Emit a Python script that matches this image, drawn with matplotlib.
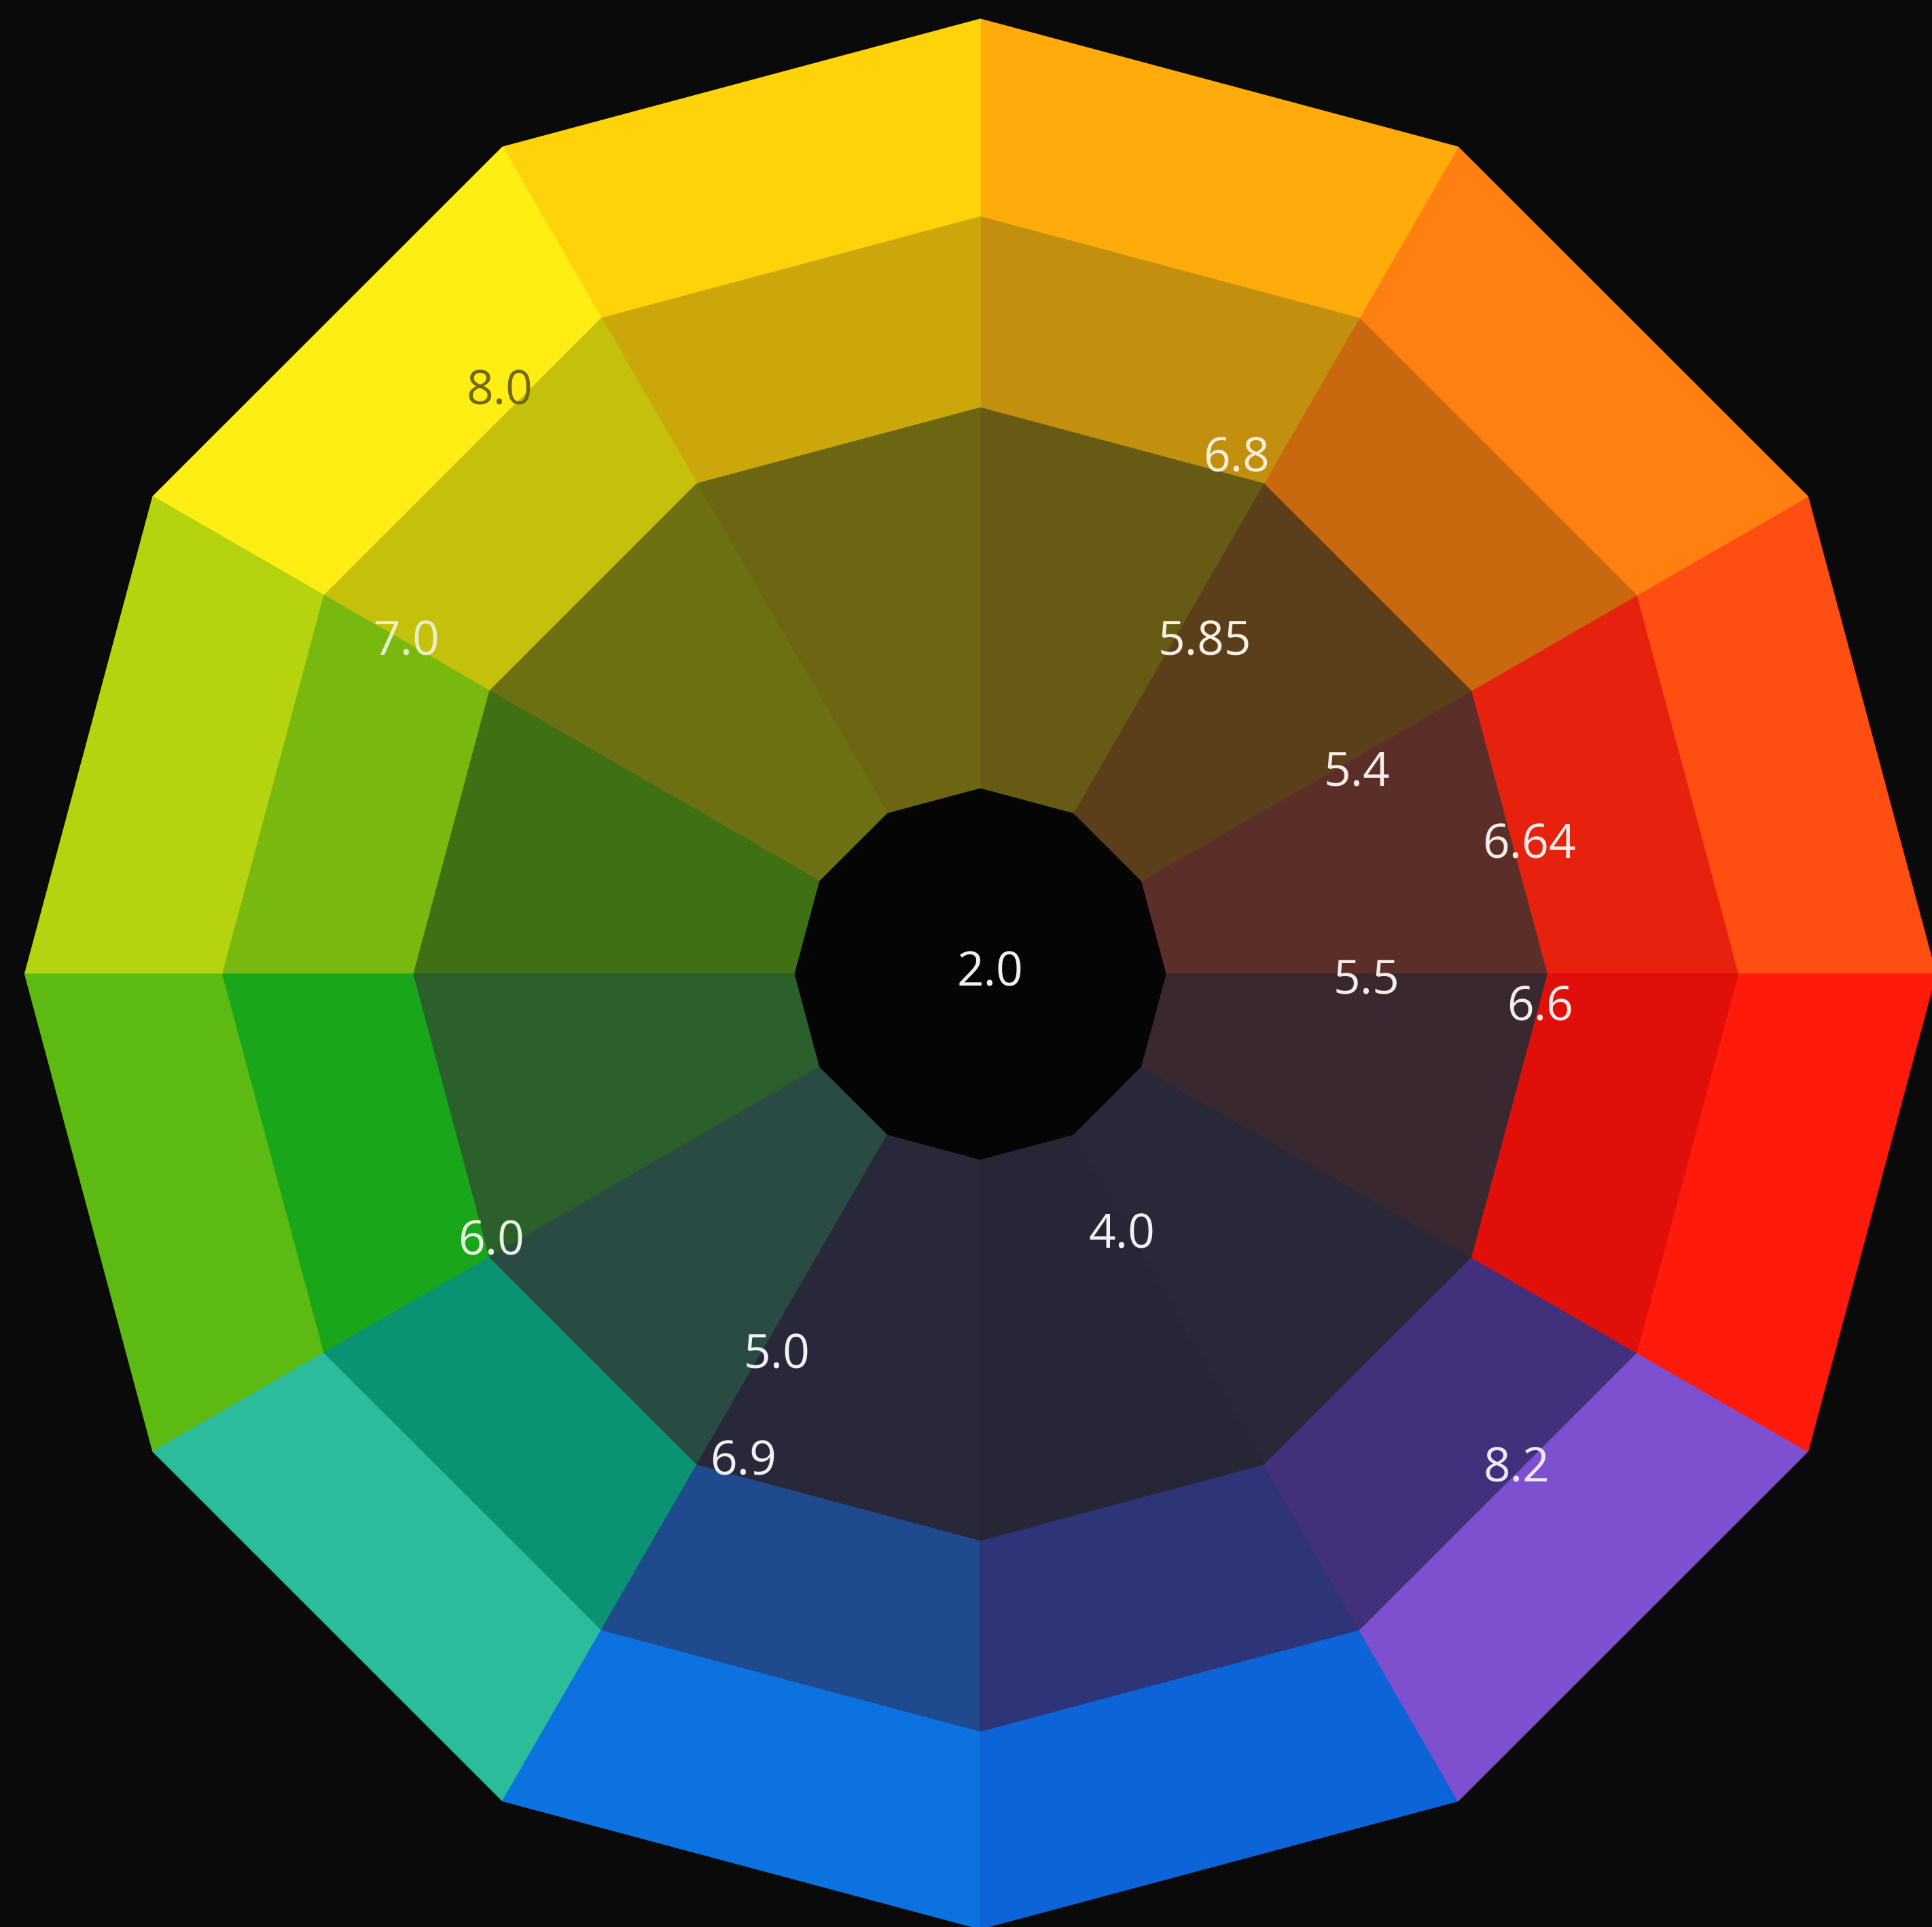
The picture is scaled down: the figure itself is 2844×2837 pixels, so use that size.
import numpy as np
import matplotlib.pyplot as plt
from matplotlib.patches import Polygon

# ring boundaries (fraction of outer radius): centre hole, dark, mid, bright
ring_radii = [0.194, 0.594, 0.794, 1.0]

# twelve 30-degree sectors, counter-clockwise from 3 o'clock
sector_deg = list(range(0, 360, 30))

inner_colors = ['#5c2e2a', '#5a3f1a', '#675a14', '#6c6612', '#6c7012', '#3f7014',
                '#2b5f2c', '#2a4a44', '#28283a', '#262636', '#282838', '#3a2830']
middle_colors = ['#e6220e', '#c9680f', '#c38f0e', '#cca70c', '#c5c00b', '#78b80f',
                 '#1aa61a', '#0b9272', '#1f4a8e', '#2e3478', '#43307c', '#e00f0a']
outer_colors = ['#ff4e12', '#ff7f10', '#ffab0c', '#ffd30a', '#ffee14', '#b5d40f',
                '#5cba12', '#2bbc9c', '#0b72e0', '#0c64d8', '#7e50d0', '#ff1a0c']
center_color = '#050505'

labels = ['2.0', '8.0', '7.0', '6.8', '5.85', '5.4', '6.64',
          '5.5', '6.6', '4.0', '5.0', '6.9', '6.0', '8.2']
label_x = [0.010, -0.503, -0.600, 0.268, 0.235, 0.394, 0.574,
           0.404, 0.586, 0.148, -0.213, -0.248, -0.512, 0.561]
label_y = [0.000, 0.609, 0.347, 0.539, 0.347, 0.210, 0.134,
           -0.008, -0.036, -0.274, -0.400, -0.512, -0.281, -0.519]
label_colors = ['#f4f1ea', '#6f6a12', '#e8efc6', '#f2eed8', '#f4f0e4', '#f4ece8', '#f4ece8',
                '#f4ece8', '#f4ece8', '#f2f0f2', '#eef2f0', '#eef0f4', '#e8f2e0', '#ece8f4']


def pt(r, deg):
    a = np.radians(deg)
    return (r * np.cos(a), r * np.sin(a))


fig = plt.figure(figsize=(28.44, 28.37), dpi=100, facecolor='#0a0a0a')
ax = fig.add_axes([0, 0, 1, 1])
ax.set_facecolor('#0a0a0a')

layers = [inner_colors, middle_colors, outer_colors]
for j, cols in enumerate(layers):
    r0, r1 = ring_radii[j], ring_radii[j + 1]
    for k, a0 in enumerate(sector_deg):
        a1 = a0 + 30
        verts = [pt(r0, a0), pt(r1, a0), pt(r1, a1), pt(r0, a1)]
        ax.add_patch(Polygon(verts, closed=True, facecolor=cols[k],
                             edgecolor=cols[k], linewidth=1.0))

hole = [pt(ring_radii[0], a) for a in sector_deg]
ax.add_patch(Polygon(hole, closed=True, facecolor=center_color,
                     edgecolor=center_color, linewidth=1.0))

for s, x, y, c in zip(labels, label_x, label_y, label_colors):
    ax.text(x, y, s, ha='center', va='center', fontsize=50,
            family='Open Sans', color=c)

ax.set_xlim(-1.026, 0.996)
ax.set_ylim(-0.998, 1.020)
ax.axis('off')

fig.savefig('out.png', dpi=100, facecolor=fig.get_facecolor())
